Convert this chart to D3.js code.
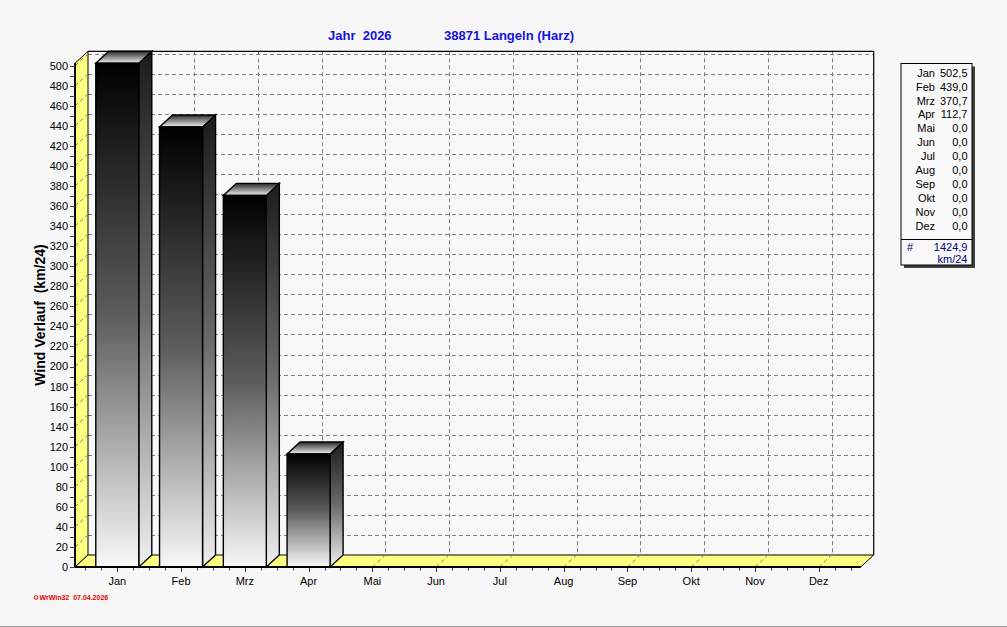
<!DOCTYPE html>
<html><head><meta charset="utf-8">
<script src="https://cdn.jsdelivr.net/npm/d3@7"></script>
<style>
html,body{margin:0;padding:0;background:#f7f7f7;}
svg{display:block;font-family:"Liberation Sans",Arial,sans-serif;}
</style></head>
<body>
<svg id="c" width="1007" height="627"></svg>
<script>
const months = ["Jan","Feb","Mrz","Apr","Mai","Jun","Jul","Aug","Sep","Okt","Nov","Dez"];
const values = [502.5, 439.0, 370.7, 112.7, 0, 0, 0, 0, 0, 0, 0, 0];
const yTicks = d3.range(0, 501, 20);
const yMinorTicks = d3.range(0, 501, 10);
const titleLeft = "Jahr  2026";
const titleRight = "38871 Langeln (Harz)";
const yAxisTitle = "Wind Verlauf  (km/24)";
const unitLabel = "km/24";
const footer = "WrWin32  07.04.2026";

const svg = d3.select("#c");
const fmt = v => d3.format(".1f")(v).replace(".", ",");

// geometry
const x0 = 75, x1 = 860.7, yBase = 567, yTopFront = 63.3;
const DX = 13, DY = 12;
const x = d3.scaleBand().domain(months).range([85.4, 850.6]).paddingInner(0).paddingOuter(0);
const y = d3.scaleLinear().domain([0, d3.max(values)]).range([yBase, yTopFront]);
const barW = 43;

// background
svg.append("rect").attr("width",1007).attr("height",627).attr("fill","#f7f7f7");
svg.append("rect").attr("x",0).attr("y",626).attr("width",1007).attr("height",1).attr("fill","#a0a0a0");

// gradients
const defs = svg.append("defs");
function grad(id, stops){
  const g = defs.append("linearGradient").attr("id",id).attr("x1",0).attr("y1",0).attr("x2",0).attr("y2",1);
  stops.forEach(s=>g.append("stop").attr("offset",s[0]).attr("stop-color",s[1]));
}
grad("gFront", [[0,"#000000"],[0.5,"#5c5c5c"],[1,"#f8f8f8"]]);
grad("gSide", [[0,"#1c1c1c"],[0.5,"#6a6a6a"],[1,"#f0f0f0"]]);
grad("gTop", [[0,"#2a2a2a"],[1,"#f0f0f0"]]);

// back wall
const backL = x0+DX, backR = x1+DX, backTop = yTopFront-DY, backBot = yBase-DY;
svg.append("rect").attr("x",backL).attr("y",backTop).attr("width",backR-backL).attr("height",backBot-backTop).attr("fill","#f8f8f8");

const grid = svg.append("g").attr("stroke","#808080").attr("stroke-width",1).attr("stroke-dasharray","4,3").attr("fill","none");
// horizontal grid on back wall
yTicks.filter(v=>v>0).forEach(v=>{
  const yy = Math.round(y(v)-DY)+0.5;
  grid.append("line").attr("x1",backL).attr("x2",backR).attr("y1",yy).attr("y2",yy);
});
// vertical grid on back wall
months.forEach(m=>{
  const xx = Math.round(x(m)+x.bandwidth()/2+DX)+0.5;
  grid.append("line").attr("x1",xx).attr("x2",xx).attr("y1",backTop).attr("y2",backBot);
});

// left wall (yellow)
svg.append("path").attr("d",`M${x0},${yBase}L${x0},${yTopFront}L${backL},${backTop}L${backL},${backBot}Z`)
  .attr("fill","#ffff80").attr("stroke","#000").attr("stroke-width",1);
// floor
svg.append("path").attr("d",`M${x0},${yBase}L${x1},${yBase}L${backR},${backBot}L${backL},${backBot}Z`)
  .attr("fill","#ffff80").attr("stroke","#000").attr("stroke-width",1);
// diagonal grid on left wall and floor
yTicks.filter(v=>v>0).forEach(v=>{
  grid.clone && 0;
  svg.append("line").attr("x1",x0).attr("y1",y(v)).attr("x2",backL).attr("y2",y(v)-DY)
    .attr("stroke","#808080").attr("stroke-dasharray","4,3");
});
months.forEach(m=>{
  const xx = x(m)+x.bandwidth()/2;
  svg.append("line").attr("x1",xx).attr("y1",yBase).attr("x2",xx+DX).attr("y2",backBot)
    .attr("stroke","#808080").attr("stroke-dasharray","4,3");
});
// back wall border
svg.append("path").attr("d",`M${backL},${backTop}L${backR},${backTop}L${backR},${backBot}`)
  .attr("fill","none").attr("stroke","#000").attr("stroke-width",1.2);

// bars
const bars = svg.append("g");
months.forEach((m,i)=>{
  const v = values[i];
  if(!(v>0)) return;
  const cx = x(m)+x.bandwidth()/2;
  const L = cx-barW/2, R = cx+barW/2, T = y(v), B = yBase;
  const g = bars.append("g").attr("stroke","#000").attr("stroke-width",1.4).attr("stroke-linejoin","miter");
  g.append("path").attr("d",`M${R},${B}L${R},${T}L${R+DX},${T-DY}L${R+DX},${B-DY}Z`).attr("fill","url(#gSide)");
  g.append("path").attr("d",`M${L},${T}L${L+DX},${T-DY}L${R+DX},${T-DY}L${R},${T}Z`).attr("fill","url(#gTop)");
  g.append("rect").attr("x",L).attr("y",T).attr("width",barW).attr("height",B-T).attr("fill","url(#gFront)");
});

// front axes
svg.append("line").attr("x1",x0).attr("x2",x0).attr("y1",yTopFront).attr("y2",yBase+1).attr("stroke","#000").attr("stroke-width",2);
svg.append("line").attr("x1",x0-1).attr("x2",x1).attr("y1",yBase).attr("y2",yBase).attr("stroke","#000").attr("stroke-width",2.2);

// y ticks
const yAx = svg.append("g");
yMinorTicks.forEach(v=>{
  yAx.append("line").attr("x1",70).attr("x2",x0).attr("y1",Math.round(y(v))+0.5).attr("y2",Math.round(y(v))+0.5).attr("stroke","#404040");
});
yTicks.forEach(v=>{
  yAx.append("text").attr("x",68).attr("y",y(v)).attr("dy","0.36em").attr("text-anchor","end")
    .attr("font-size",11).attr("fill","#000").text(v);
});

// x ticks
const step = x.step()/4;
d3.range(0,49).forEach(k=>{
  const xx = Math.round(85.4+k*step)+0.5;
  const major = (k-2)%4===0;
  svg.append("line").attr("x1",xx).attr("x2",xx).attr("y1",yBase+1).attr("y2",yBase+(major?5:3.5)).attr("stroke","#404040");
});
months.forEach(m=>{
  svg.append("text").attr("x",x(m)+x.bandwidth()/2).attr("y",585).attr("text-anchor","middle")
    .attr("font-size",11).attr("fill","#000").text(m);
});

// title
svg.append("text").attr("x",328).attr("y",40).attr("font-size",13).attr("font-weight","bold").attr("fill","#1414e0")
  .style("white-space","pre").text(titleLeft);
svg.append("text").attr("x",444).attr("y",40).attr("font-size",13).attr("font-weight","bold").attr("fill","#1414e0")
  .text(titleRight);

// y axis title
svg.append("text").attr("transform","translate(45,315) rotate(-90)").attr("text-anchor","middle")
  .attr("font-size",14).attr("font-weight","bold").attr("fill","#000").style("white-space","pre").text(yAxisTitle);

// legend
const lg = svg.append("g");
const bx = 901, by = 63.5, bw = 71, bh = 201.5;
lg.append("rect").attr("x",bx+3).attr("y",by+3).attr("width",bw).attr("height",bh).attr("fill","#404040");
lg.append("rect").attr("x",bx).attr("y",by).attr("width",bw).attr("height",bh).attr("fill","#f8f8f8").attr("stroke","#000").attr("stroke-width",1);
months.forEach((m,i)=>{
  const yy = 76.7 + i*13.9;
  lg.append("text").attr("x",935).attr("y",yy).attr("text-anchor","end").attr("font-size",11).attr("fill","#000").text(m);
  lg.append("text").attr("x",967.5).attr("y",yy).attr("text-anchor","end").attr("font-size",11).attr("fill","#000").text(fmt(values[i]));
});
lg.append("line").attr("x1",bx).attr("x2",bx+bw).attr("y1",239.5).attr("y2",239.5).attr("stroke","#000");
lg.append("text").attr("x",907).attr("y",251).attr("font-size",11).attr("fill","#000080").text("#");
lg.append("text").attr("x",967.5).attr("y",251).attr("text-anchor","end").attr("font-size",11).attr("fill","#000080").text(fmt(d3.sum(values)));
lg.append("text").attr("x",967.5).attr("y",263).attr("text-anchor","end").attr("font-size",11).attr("fill","#000080").text(unitLabel);

// footer
svg.append("circle").attr("cx",36).attr("cy",597.5).attr("r",1.8).attr("fill","none").attr("stroke","#e00000").attr("stroke-width",1);
svg.append("text").attr("x",39.5).attr("y",600).attr("font-size",7).attr("font-weight","bold").attr("fill","#e00000")
  .style("white-space","pre").text(footer);
</script>
</body></html>
